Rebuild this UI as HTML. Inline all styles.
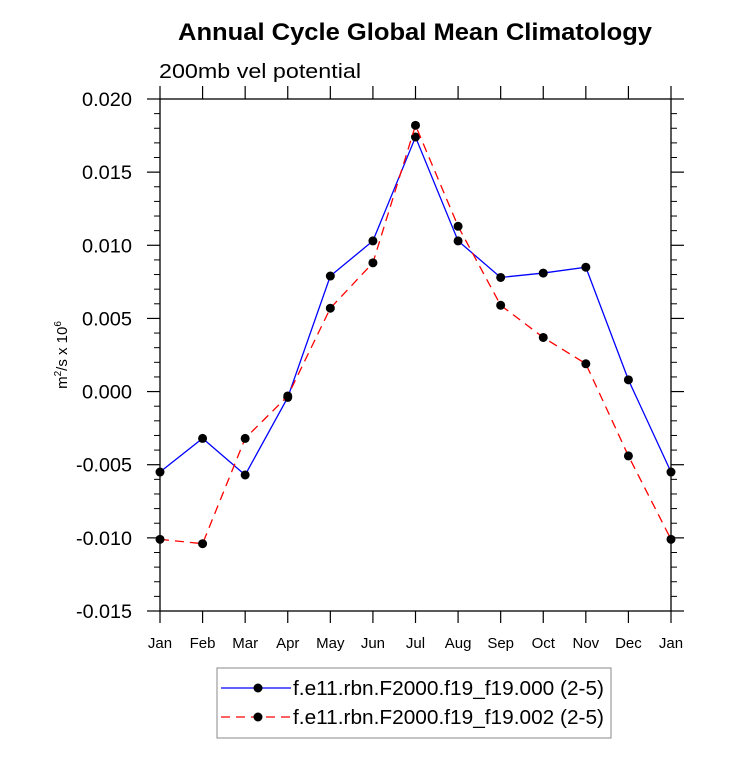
<!DOCTYPE html>
<html><head><meta charset="utf-8"><style>body{margin:0;background:#fff}svg{display:block;font-family:"Liberation Sans",Arial,sans-serif}</style></head>
<body>
<svg id="chart" width="733" height="758">
<text x="178" y="40" font-size="24" font-weight="bold" textLength="474" lengthAdjust="spacingAndGlyphs">Annual Cycle Global Mean Climatology</text>
<text x="159" y="78" font-size="20" textLength="202" lengthAdjust="spacingAndGlyphs">200mb vel potential</text>
<text transform="translate(67,355) rotate(-90)" text-anchor="middle" font-size="15">m<tspan font-size="10" dy="-6">2</tspan><tspan dy="6">/s x 10</tspan><tspan font-size="10" dy="-6">6</tspan></text>
<g id="axes"></g>
<g id="series"></g>
<g>
<rect x="217" y="668" width="394" height="70" fill="#fff" stroke="#888" stroke-width="1"/>
<g>
<line x1="221" y1="688" x2="291" y2="688" stroke="#0000ff" stroke-width="1.3"/>
<circle cx="258" cy="688" r="4.5" fill="#000"/>
<text x="293" y="695" font-size="20" textLength="311" lengthAdjust="spacingAndGlyphs">f.e11.rbn.F2000.f19_f19.000 (2-5)</text></g>
<g>
<line x1="221" y1="717" x2="291" y2="717" stroke="#ff0000" stroke-width="1.3" stroke-dasharray="9,6"/>
<circle cx="258" cy="717" r="4.5" fill="#000"/>
<text x="293" y="724" font-size="20" textLength="311" lengthAdjust="spacingAndGlyphs">f.e11.rbn.F2000.f19_f19.002 (2-5)</text></g>
</g>
</svg>
<script>
const months = ["Jan","Feb","Mar","Apr","May","Jun","Jul","Aug","Sep","Oct","Nov","Dec","Jan"];
const series000 = [-0.0055,-0.0032,-0.0057,-0.0004,0.0079,0.0103,0.0174,0.0103,0.0078,0.0081,0.0085,0.0008,-0.0055];
const series002 = [-0.0101,-0.0104,-0.0032,-0.0003,0.0057,0.0088,0.0182,0.0113,0.0059,0.0037,0.0019,-0.0044,-0.0101];
const yTicks = [0.020,0.015,0.010,0.005,0.000,-0.005,-0.010,-0.015];
const yTickLabels = ["0.020","0.015","0.010","0.005","0.000","-0.005","-0.010","-0.015"];

const NS="http://www.w3.org/2000/svg";
const L=160,R=671,T=99,B=611,ymin=-0.015,ymax=0.020;
const xs=i=>L+(R-L)*i/(months.length-1);
const ys=v=>B-(v-ymin)/(ymax-ymin)*(B-T);
function mk(tag,attrs,parent){const e=document.createElementNS(NS,tag);for(const k in attrs)e.setAttribute(k,attrs[k]);parent.appendChild(e);return e;}
const ax=document.getElementById('axes');
const frame=mk('rect',{x:L,y:T,width:R-L,height:B-T,fill:'none',stroke:'#000','stroke-width':1.3},ax);


months.forEach((m,i)=>{
  const x=xs(i);
  mk('line',{x1:x,y1:B,x2:x,y2:B+12,stroke:'#000','stroke-width':1.2},ax);
  mk('line',{x1:x,y1:T,x2:x,y2:T-13,stroke:'#000','stroke-width':1.2},ax);
  const t=mk('text',{x:x,y:B+37,'text-anchor':'middle','font-size':15},ax);
  t.textContent=m;
  
  
});
yTicks.forEach((v,i)=>{
  const y=ys(v);
  mk('line',{x1:L-13,y1:y,x2:L,y2:y,stroke:'#000','stroke-width':1.2},ax);
  mk('line',{x1:R,y1:y,x2:R+13,y2:y,stroke:'#000','stroke-width':1.2},ax);
  const lab=yTickLabels[i];
  const w=lab.startsWith('-')?56:50;
  const t=mk('text',{x:132-w,y:y+7,'font-size':19,textLength:w,lengthAdjust:'spacingAndGlyphs'},ax);
  t.textContent=lab;
  
  
  if(i<yTicks.length-1){for(let k=1;k<5;k++){const yy=ys(v-0.001*k);
    mk('line',{x1:L-6,y1:yy,x2:L,y2:yy,stroke:'#000','stroke-width':1},ax);
    mk('line',{x1:R,y1:yy,x2:R+6,y2:yy,stroke:'#000','stroke-width':1},ax);}}
});
const sg=document.getElementById('series');
function drawSeries(vals,color,dash,name){
  const g=mk('g',{},sg);
  
  
  const p=mk('polyline',{points:vals.map((v,i)=>xs(i)+','+ys(v)).join(' '),fill:'none',stroke:color,'stroke-width':1.3,'stroke-dasharray':dash},g);
  
  
  vals.forEach((v,i)=>{const c=mk('circle',{cx:xs(i),cy:ys(v),r:4.5,fill:'#000'},g);
    
    });
}
drawSeries(series000,'#0000ff','none','series-000');
drawSeries(series002,'#ff0000','9,6','series-002');
</script>
</body></html>
